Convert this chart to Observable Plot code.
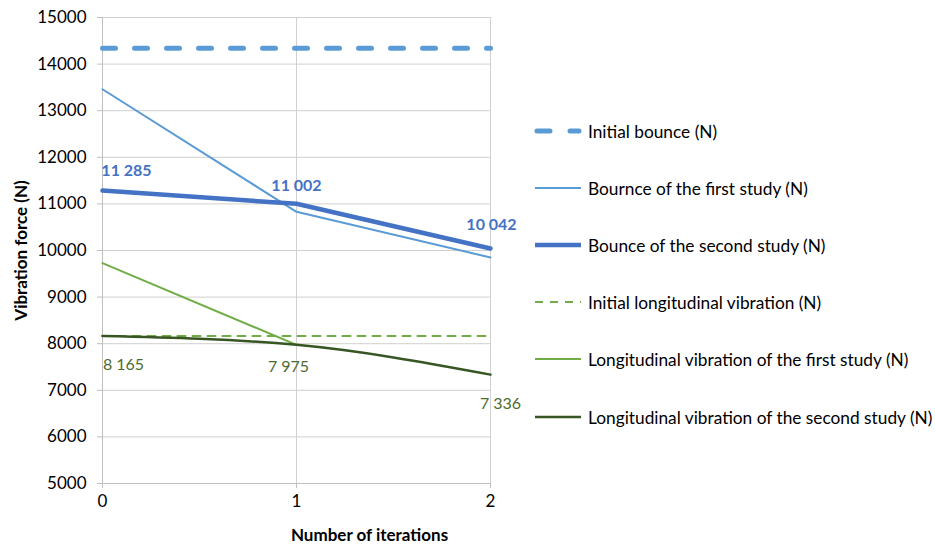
<!DOCTYPE html>
<html>
<head>
<meta charset="utf-8">
<script src="https://cdn.jsdelivr.net/npm/d3@7"></script>
<script src="https://cdn.jsdelivr.net/npm/@observablehq/plot@0.6"></script>
<style>
  html, body { margin: 0; padding: 0; background: #fff; }
  #wrap { position: relative; width: 935px; height: 544px; font-family: Lato, "Open Sans", sans-serif; }
  #legend { position: absolute; left: 534px; top: 0; }
  .item { position: absolute; left: 0; display: flex; align-items: center; white-space: nowrap; font-size: 17.3px; color: #000; }
  .item svg { display: block; margin-right: 6px; }
</style>
</head>
<body>
<div id="wrap"></div>
<script>
// ---- data ----
const iterations = [0, 1, 2];
const seriesNames = [
  "Initial bounce (N)",
  "Bournce of the first study (N)",
  "Bounce of the second study (N)",
  "Initial longitudinal vibration (N)",
  "Longitudinal vibration of the first study (N)",
  "Longitudinal vibration of the second study (N)"
];
const initialBounce = [14340, 14340, 14340];
const bounceFirst = [13460, 10830, 9850];
const bounceSecond = [11285, 11002, 10042];
const initialLongitudinal = [8165, 8165, 8165];
const longitudinalFirst = [9730, 7975, null];
const longitudinalSecond = [8165, 7975, 7336];
const yTicks = [5000, 6000, 7000, 8000, 9000, 10000, 11000, 12000, 13000, 14000, 15000];
const xTicks = [0, 1, 2];
const bounceLabels = ["11 285", "11 002", "10 042"];
const longLabels = ["8 165", "7 975", "7 336"];

// ---- styles ----
const styles = [
  {stroke: "#5B9BD5", strokeWidth: 5, strokeDasharray: "13,19", strokeLinecap: "round"},
  {stroke: "#5B9BD5", strokeWidth: 2},
  {stroke: "#4472C4", strokeWidth: 4.5},
  {stroke: "#70AD47", strokeWidth: 2, strokeDasharray: "8,7"},
  {stroke: "#70AD47", strokeWidth: 2},
  {stroke: "#375623", strokeWidth: 2.5, curve: "monotone-x"}
];
const allValues = [initialBounce, bounceFirst, bounceSecond, initialLongitudinal, longitudinalFirst, longitudinalSecond];
const rowsFor = (vals) => iterations.map((x, i) => ({x, y: vals[i]})).filter(d => d.y != null);

const lineMarks = allValues.map((vals, k) => Plot.line(rowsFor(vals), {x: "x", y: "y", ...styles[k]}));

const bRows = iterations.map((x, i) => ({x, y: bounceSecond[i], label: bounceLabels[i]}));
const gRows = iterations.map((x, i) => ({x, y: longitudinalSecond[i], label: longLabels[i]}));
const bOff = [{dx: 24, dy: -20}, {dx: 0, dy: -18}, {dx: 1, dy: -24}];
const gOff = [{dx: 21, dy: 29}, {dx: -8, dy: 22}, {dx: 10, dy: 29}];

const labelMarks = [
  ...bRows.map((r, i) => Plot.text([r], {x: "x", y: "y", text: "label", fill: "#4472C4", fontWeight: "bold", fontSize: 16, ...bOff[i]})),
  ...gRows.map((r, i) => Plot.text([r], {x: "x", y: "y", text: "label", fill: "#4E6B2F", fontSize: 16, ...gOff[i]}))
];

const chart = Plot.plot({
  width: 935,
  height: 544,
  marginLeft: 102,
  marginRight: 445,
  marginTop: 17,
  marginBottom: 61,
  style: {fontFamily: "Lato, 'Open Sans', sans-serif", fontSize: "16px", color: "#000", background: "#fff"},
  x: {domain: [0, 2]},
  y: {domain: [5000, 15000]},
  marks: [
    Plot.gridY(yTicks, {stroke: "#d0d0d0", strokeOpacity: 1}),
    Plot.gridX([1, 2], {stroke: "#d0d0d0", strokeOpacity: 1}),
    Plot.ruleX([0], {stroke: "#bfbfbf"}),
    Plot.ruleY([5000], {stroke: "#bfbfbf"}),
    Plot.axisY(yTicks, {tickSize: 5, tickPadding: 11, tickFormat: d3.format("d"), stroke: "#bfbfbf", fill: "#000", fontSize: 17, label: null}),
    Plot.axisX(xTicks, {tickSize: 5, tickPadding: 6, tickFormat: d3.format("d"), stroke: "#bfbfbf", fill: "#000", fontSize: 17, label: null}),
    Plot.text(["Vibration force (N)"], {frameAnchor: "left", textAnchor: "middle", rotate: -90, dx: -81, fontWeight: "bold", fontSize: 17, fill: "#000"}),
    Plot.text(["Number of iterations"], {frameAnchor: "bottom", textAnchor: "middle", dx: 73, dy: 57, fontWeight: "bold", fontSize: 17, fill: "#000"}),
    ...lineMarks,
    ...labelMarks
  ]
});

const wrap = document.getElementById("wrap");
wrap.appendChild(chart);

// ---- legend ----
const legend = document.createElement("div");
legend.id = "legend";
const legendY = [131, 188, 245, 302, 359, 417];
seriesNames.forEach((name, k) => {
  const item = document.createElement("div");
  item.className = "item";
  item.style.top = (legendY[k] - 11) + "px";
  item.style.height = "22px";
  const s = styles[k];
  const dash = k === 0 ? "13,20" : (s.strokeDasharray ? "8,7" : "none");
  item.innerHTML = `<svg width="48" height="22"><line x1="${k===0?3:1}" x2="${k===0?45:47}" y1="11" y2="11" stroke="${s.stroke}" stroke-width="${s.strokeWidth}" stroke-dasharray="${dash}" stroke-linecap="${k===0?'round':'butt'}"/></svg><span>${name}</span>`;
  legend.appendChild(item);
});
wrap.appendChild(legend);
</script>
</body>
</html>
